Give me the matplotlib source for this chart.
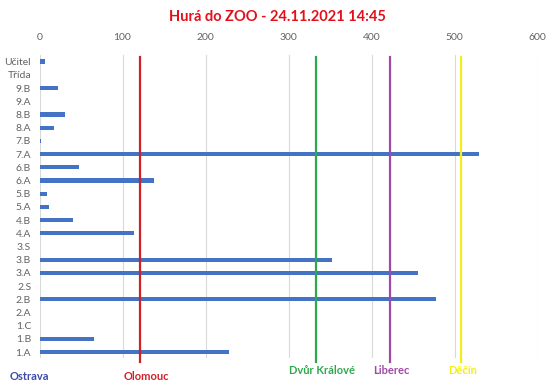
import matplotlib
matplotlib.use("Agg")
import matplotlib.pyplot as plt

plt.rcParams['font.family'] = ['Lato', 'DejaVu Sans']

categories = ["1.A", "1.B", "1.C", "2.A", "2.B", "2.S", "3.A", "3.B", "3.S", "4.A",
              "4.B", "5.A", "5.B", "6.A", "6.B", "7.A", "7.B", "8.A", "8.B", "9.A",
              "9.B", "Třída", "Učitel"]
values = [228, 66, 0, 0, 478, 0, 456, 353, 0, 114,
          40, 12, 9, 138, 48, 529, 2, 17, 31, 0,
          22, 0, 7]

cities = ["Ostrava", "Olomouc", "Dvůr Králové", "Liberec", "Děčín"]
city_pos = [0, 121, 333, 422, 508]
city_colors = ["#3C4BA8", "#D0202A", "#2EA84E", "#A04AA6", "#F2EE1C"]

W, H = 550, 390
fig = plt.figure(figsize=(W / 100, H / 100), dpi=100)
left, right = 39.5, 537.5
top, bottom = 55, 358
ax = fig.add_axes([left / W, (H - bottom) / H, (right - left) / W, (bottom - top) / H])

y = list(range(len(categories)))
ax.barh(y, values, height=0.32, color="#4472C4", zorder=2)
ax.set_xlim(0, 600)
ax.set_ylim(-0.45, len(categories) - 0.5)
ax.set_yticks(y)
ax.set_yticklabels(categories)
ax.set_xticks(range(0, 601, 100))
ax.xaxis.tick_top()
ax.tick_params(axis='both', length=0, labelsize=7.5, colors="#636363")
ax.tick_params(axis='x', pad=9)
ax.tick_params(axis='y', pad=6)
ax.grid(axis='x', color="#D9D9D9", linewidth=0.8, zorder=0)
for s in ax.spines.values():
    s.set_visible(False)

for pos, col in zip(city_pos[1:], city_colors[1:]):
    ax.axvline(pos, ymin=-0.012, ymax=0.993, color=col, linewidth=1.6, zorder=3, clip_on=False)

label_x = [29, 146, 322, 391, 463]
label_y = [377, 376, 371, 370, 370]
for name, col, lx, ly in zip(cities, city_colors, label_x, label_y):
    fig.text(lx / W, 1 - ly / H, name, color=col, fontsize=8, fontweight='bold',
             ha='center', va='center')

fig.text(277 / W, 1 - 17 / H, "Hurá do ZOO - 24.11.2021 14:45", color="#E3101B",
         fontsize=10.5, fontweight='bold', ha='center', va='center')

fig.savefig("out.png", dpi=100)
